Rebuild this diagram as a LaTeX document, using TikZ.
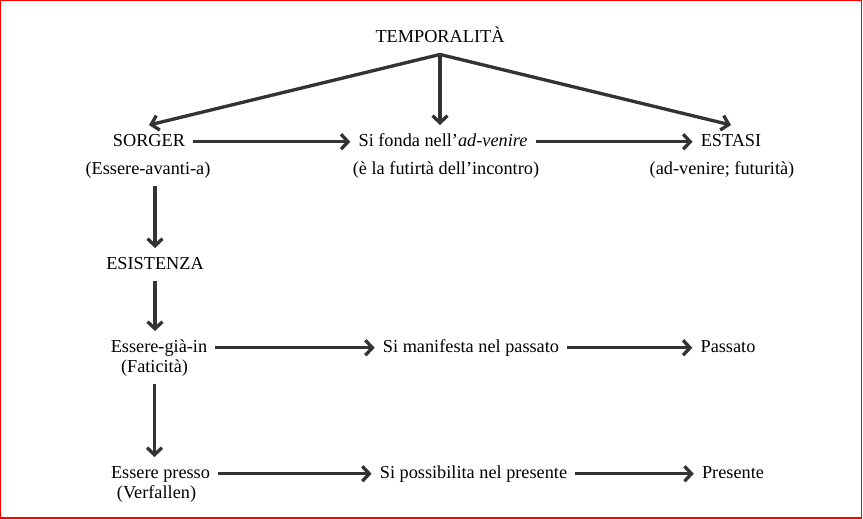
\documentclass[tikz,border=0pt]{standalone}
\usepackage{fontspec}
\setmainfont{Liberation Serif}
\usetikzlibrary{arrows.meta}
\tikzset{
  lbl/.style={anchor=base, inner sep=4.5pt, text height=1.7ex, text depth=.4ex},
  arr/.style={draw=black!80, line width=1.9pt, -{Straight Barb[length=4pt,width=8.5pt]}}
}
\begin{document}
\begin{tikzpicture}[x=0.02cm,y=-0.02cm,font=\fontsize{10.4}{12}\selectfont]
\useasboundingbox (0,0) rectangle (863,519);
\draw[red, line width=0.8pt] (0.5,0.5) rectangle (861.5,518);
% top
\node[lbl] (temp) at (440,43) {TEMPORALITÀ};
% first row
\node[lbl] (sorger) at (149,147) {SORGER};
\node[lbl] (sorgersub) at (148,175) {(Essere-avanti-a)};
\node[lbl] (fonda) at (443,147) {Si fonda nell'\textit{ad-venire}};
\node[lbl] (fondasub) at (446,175) {(è la futirtà dell'incontro)};
\node[lbl] (estasi) at (731,147) {ESTASI};
\node[lbl] (estasisub) at (722,175) {(ad-venire; futurità)};
% left column
\node[lbl] (esist) at (155,270) {ESISTENZA};
\node[lbl] (gia) at (159,353) {Essere-già-in};
\node[lbl] (giasub) at (154.5,373) {(Faticità)};
\node[lbl] (manif) at (471,353) {Si manifesta nel passato};
\node[lbl] (passato) at (728,353) {Passato};
\node[lbl] (presso) at (160.5,479) {Essere presso};
\node[lbl] (pressosub) at (156.5,499) {(Verfallen)};
\node[lbl] (possib) at (473.5,479) {Si possibilita nel presente};
\node[lbl] (presente) at (733,479) {Presente};
% arrows
\draw[arr] (temp.south) -- (sorger.north);
\draw[arr] (temp.south) -- (temp.south |- fonda.north);
\draw[arr] (temp.south) -- (estasi.north);
\draw[arr] (sorger) -- (fonda);
\draw[arr] (fonda) -- (estasi);
\draw[arr] (esist.north |- sorgersub.south) -- (esist.north);
\draw[arr] (esist.south) -- (esist.south |- gia.north);
\draw[arr] (gia) -- (manif);
\draw[arr] (manif) -- (passato);
\draw[arr] (giasub.south) -- (giasub.south |- presso.north);
\draw[arr] (presso) -- (possib);
\draw[arr] (possib) -- (presente);
\end{tikzpicture}
\end{document}
